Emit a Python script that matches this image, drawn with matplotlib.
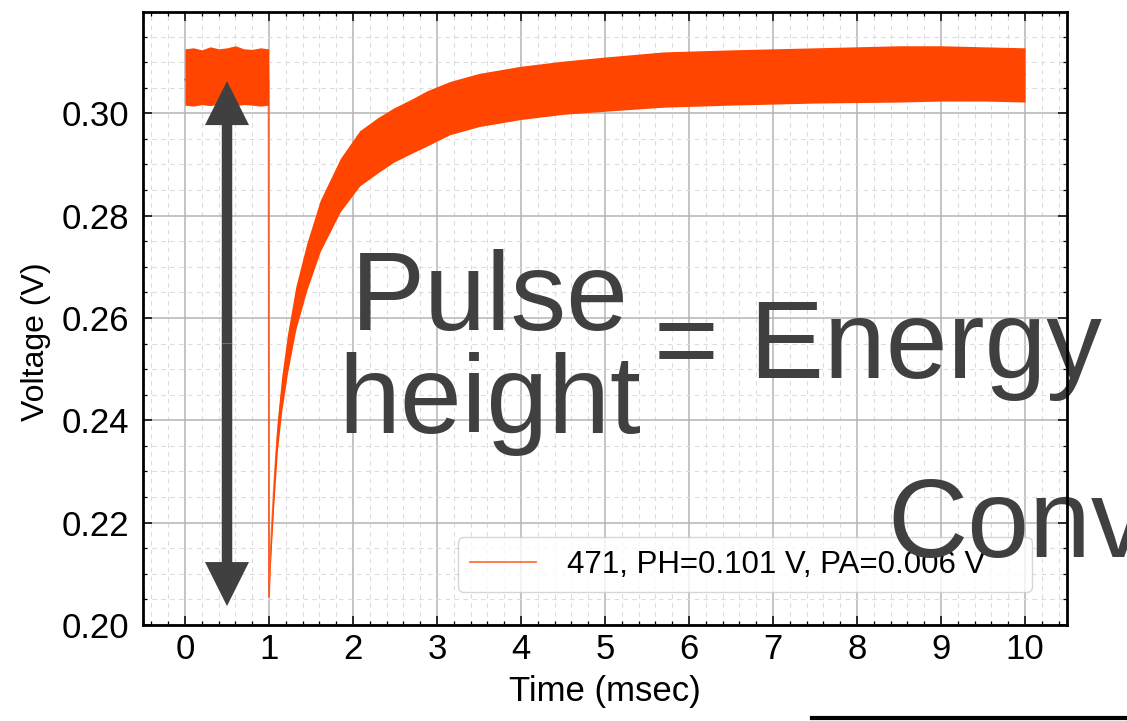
import matplotlib
matplotlib.use("Agg")
import matplotlib.pyplot as plt
from matplotlib.ticker import MultipleLocator, FormatStrFormatter
from matplotlib.lines import Line2D

plt.rcParams['font.family'] = ['Liberation Sans', 'DejaVu Sans']

# ---- data (time in ms, voltage in V) ----
time_ms = [0.00, 0.10, 0.20, 0.30, 0.40, 0.50, 0.60, 0.70, 0.80, 0.90, 0.995,
           1.000, 1.010, 1.030, 1.060, 1.100, 1.150, 1.220, 1.320, 1.450,
           1.610, 1.850, 2.080, 2.300, 2.480, 2.700, 2.880, 3.150, 3.500, 4.000, 4.500,
           5.000, 5.700, 6.500, 7.500, 8.500, 9.000, 9.500, 10.000]
v_mid = [0.3066, 0.3066, 0.3065, 0.3067, 0.3066, 0.3066, 0.3067, 0.3066, 0.3065, 0.3066, 0.3066,
         0.2055, 0.2110, 0.2180, 0.2270, 0.2370, 0.2450, 0.2530, 0.2620, 0.2700,
         0.2780, 0.2860, 0.2912, 0.2938, 0.2957, 0.2975, 0.2990, 0.3010, 0.3026, 0.3040, 0.3050,
         0.3057, 0.3066, 0.3070, 0.3074, 0.3077, 0.3078, 0.3078, 0.3076]
v_hi = [0.3126, 0.3128, 0.3124, 0.3130, 0.3126, 0.3128, 0.3132, 0.3126, 0.3125, 0.3128, 0.3126,
        0.2062, 0.2125, 0.2202, 0.2298, 0.2400, 0.2484, 0.2568, 0.2662, 0.2746,
        0.2830, 0.2912, 0.2966, 0.2992, 0.3010, 0.3028, 0.3044, 0.3062, 0.3078, 0.3092, 0.3102,
        0.3110, 0.3120, 0.3124, 0.3128, 0.3132, 0.3132, 0.3130, 0.3128]
v_lo = [0.3016, 0.3014, 0.3017, 0.3015, 0.3018, 0.3016, 0.3015, 0.3017, 0.3016, 0.3014, 0.3016,
        0.2050, 0.2095, 0.2158, 0.2242, 0.2340, 0.2416, 0.2492, 0.2578, 0.2654,
        0.2730, 0.2808, 0.2858, 0.2884, 0.2904, 0.2922, 0.2936, 0.2958, 0.2974, 0.2988, 0.2998,
        0.3004, 0.3012, 0.3016, 0.3020, 0.3022, 0.3024, 0.3024, 0.3022]
trace_label = "471, PH=0.101 V, PA=0.006 V"
arrow_x = 0.5
arrow_top = 0.3063
arrow_bottom = 0.2037
xlabel = "Time (msec)"
ylabel = "Voltage (V)"

TRACE = '#FF4500'
DARK = '#404040'

fig = plt.figure(figsize=(11.27, 7.21), dpi=100)
ax = fig.add_axes([143/1127, 1-625/721, (1067-143)/1127, (625-12)/721])

ax.fill_between(time_ms, v_lo, v_hi, color=TRACE, lw=0, zorder=2)
ax.plot(time_ms, v_mid, color=TRACE, lw=1.3, alpha=0.75, label=trace_label, zorder=2.1)

ax.set_xlim(-0.5, 10.5)
ax.set_ylim(0.2, 0.3198)
ax.xaxis.set_major_locator(MultipleLocator(1))
ax.xaxis.set_minor_locator(MultipleLocator(0.2))
ax.yaxis.set_major_locator(MultipleLocator(0.02))
ax.yaxis.set_minor_locator(MultipleLocator(0.005))
ax.yaxis.set_major_formatter(FormatStrFormatter('%.2f'))

ax.set_axisbelow(True)
ax.grid(which='major', color='#b4b4b4', lw=1.1, ls='-')
ax.grid(which='minor', color='#dcdcdc', lw=0.8, ls=(0, (4, 4)))

ax.tick_params(which='both', direction='in', top=True, right=True)
ax.tick_params(which='major', length=6.5, width=1.1, labelsize=25)
ax.tick_params(which='minor', length=3.2, width=0.9)
ax.tick_params(axis='x', pad=6)
ax.tick_params(axis='y', pad=10)
for s in ax.spines.values():
    s.set_linewidth(2)
    s.set_zorder(10)

ax.set_xlabel(xlabel, fontsize=25, labelpad=6)
ax.set_ylabel(ylabel, fontsize=23)
ax.yaxis.set_label_coords(-0.100, 0.462)

# double-headed arrow
mid = (arrow_top + arrow_bottom) / 2
for end in (arrow_top, arrow_bottom):
    ax.arrow(arrow_x, mid, 0, end - mid, width=0.125, head_width=0.524,
             head_length=0.0086, length_includes_head=True, color=DARK,
             lw=0, zorder=4)

leg = ax.legend(loc='lower left', bbox_to_anchor=(0.3409, 0.0538, 0.6212, 0.1),
                mode='expand', borderaxespad=0, fontsize=22.5, handlelength=2.1,
                handletextpad=1.0, borderpad=0.4, fancybox=True,
                framealpha=0.8, edgecolor='#cccccc')
leg.set_zorder(5)

# large overlay texts
kw = dict(transform=fig.transFigure, fontsize=80, color=DARK, zorder=6,
          clip_on=False, va='baseline')
ax.text(490/1127, 1-330/721, 'Pulse', ha='center', **kw)
ax.text(490/1127, 1-433/721, 'height', ha='center', **kw)
ax.text(654/1127, 1-378/721, '= Energy', ha='left', **kw)
ax.text(887/1127, 1-557/721, 'Conv', ha='left', **kw)

fig.add_artist(Line2D([812/1127, 1.0], [1-718/721, 1-718/721],
                      transform=fig.transFigure, color='black', lw=3))

fig.savefig('out.png', dpi=100)
